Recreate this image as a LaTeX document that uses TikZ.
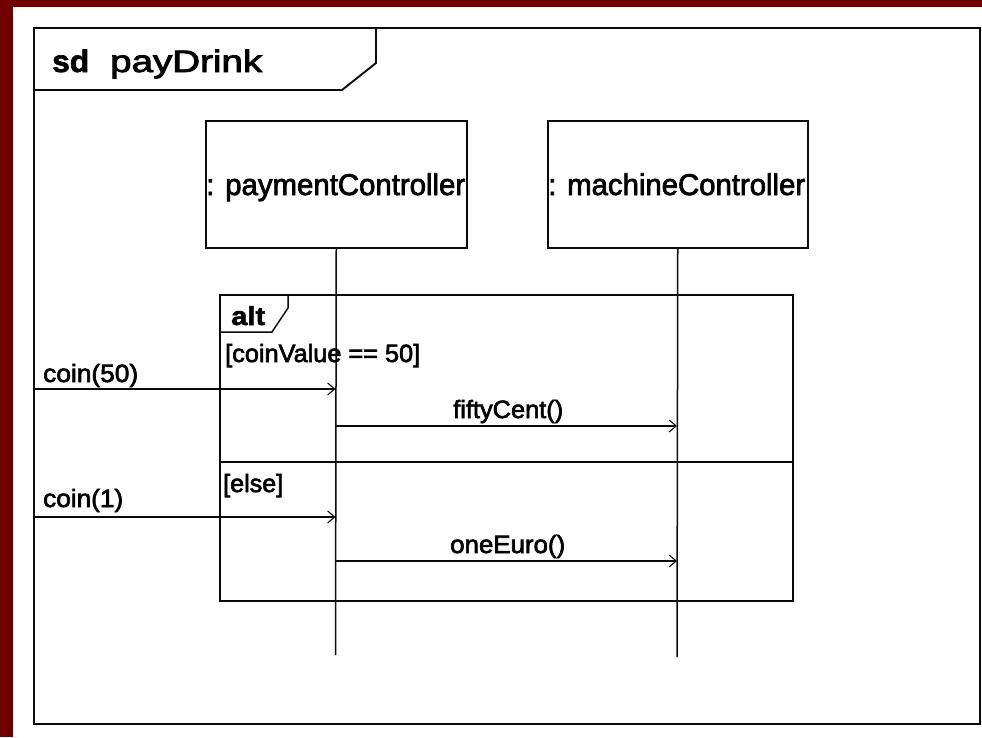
\documentclass[tikz,border=0pt]{standalone}
\usepackage{fontspec}
\setmainfont{Liberation Sans}
\newfontfamily\heavyfont[FakeBold=2.5]{Liberation Sans}
\newfontfamily\heavierfont[FakeBold=2]{Liberation Sans Bold}
\usepackage{graphicx}
\usetikzlibrary{arrows.meta}
\definecolor{maroonbg}{RGB}{112,0,0}
\definecolor{ink}{RGB}{10,10,10}
\begin{document}
\begin{tikzpicture}[x=1pt,y=-1pt,
  framestyle/.style={draw=ink, line width=1.9pt},
  thin/.style={draw=ink, line width=1.5pt},
  msg/.style={thin, -{Straight Barb[length=7pt,width=12pt,line width=1.1pt]}},
  lbl/.style={inner sep=0pt, anchor=base west, text=black, font=\heavyfont\fontsize{25pt}{25pt}\selectfont},
  namelbl/.style={inner sep=0pt, anchor=base west, text=black, font=\heavyfont\fontsize{30pt}{30pt}\selectfont},
  lifebox/.style={thin, fill=white, inner sep=0pt, anchor=north west, minimum width=261pt, minimum height=127pt}]
\fill[maroonbg] (0,0) rectangle (982,737);
\fill[white] (13,7) rectangle (982,737);
\useasboundingbox (0,0) rectangle (982,737);

% outer sd frame
\node[framestyle, inner sep=0pt, anchor=north west, minimum width=946pt, minimum height=696pt] (sdframe) at (33,27) {};
\draw[framestyle] (33,90) -- (342,90) -- (376,63) -- (376,27);
\node[inner sep=0pt, anchor=base west, font=\heavierfont\fontsize{31pt}{31pt}\selectfont] (sdkw) at (52,72) {\resizebox{37pt}{\height}{sd}};
\node[inner sep=0pt, anchor=base west, font=\heavyfont\fontsize{31pt}{31pt}\selectfont] (sdname) at (110,72) {\resizebox{152pt}{\height}{payDrink}};

% lifelines
\node[lifebox] (pc) at (205,120) {};
\node[lifebox, minimum width=260pt] (mc) at (547,120) {};
\node[namelbl] (pcname) at (206,195) {\resizebox{259pt}{\height}{: paymentController}};
\node[namelbl] (mcname) at (548,195) {\resizebox{257pt}{\height}{: machineController}};
\coordinate (pcend) at (335.5,655);
\coordinate (mcend) at (677,657);
\draw[thin] (pc.south) -- (pcend);
\draw[thin] (mc.south) -- (mcend);

% alt fragment
\node[thin, inner sep=0pt, anchor=north west, minimum width=573pt, minimum height=306pt] (alt) at (219,294) {};
\draw[thin] (219,332) -- (272,332) -- (288,308) -- (288,294);
\node[inner sep=0pt, anchor=base west, font=\heavierfont\fontsize{26pt}{26pt}\selectfont] (altkw) at (231,325) {\resizebox{34pt}{\height}{alt}};
\node[lbl] (guard1) at (225,362) {\resizebox{195pt}{\height}{[coinValue == 50]}};
\coordinate (sepL) at (219,462);
\coordinate (sepR) at (792,462);
\draw[thin] (sepL) -- (sepR);
\node[lbl] (guard2) at (223,492) {\resizebox{60pt}{\height}{[else]}};

% messages
\coordinate (m1s) at (33,389);
\coordinate (m1e) at (335.5,389);
\coordinate (m2s) at (335.5,426);
\coordinate (m2e) at (677,426);
\coordinate (m3s) at (33,517);
\coordinate (m3e) at (335.5,517);
\coordinate (m4s) at (335.5,561);
\coordinate (m4e) at (677,561);
\draw[msg] (m1s) -- (m1e);
\draw[msg] (m2s) -- (m2e);
\draw[msg] (m3s) -- (m3e);
\draw[msg] (m4s) -- (m4e);
\node[lbl] (l1) at (43,382) {\resizebox{95pt}{\height}{coin(50)}};
\node[lbl] (l2) at (453,418) {\resizebox{110pt}{\height}{fiftyCent()}};
\node[lbl] (l3) at (43,507) {\resizebox{80pt}{\height}{coin(1)}};
\node[lbl] (l4) at (450,553) {\resizebox{115pt}{\height}{oneEuro()}};
\end{tikzpicture}
\end{document}
